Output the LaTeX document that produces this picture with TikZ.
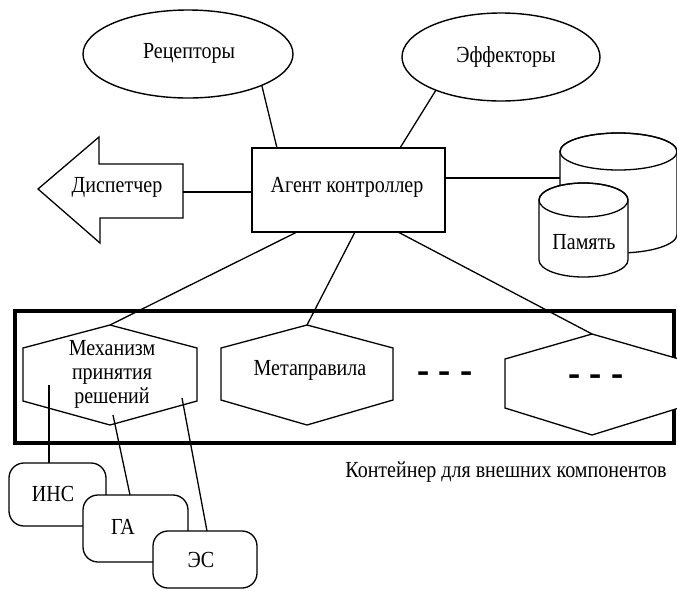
\documentclass[tikz,border=0pt]{standalone}
\usepackage{fontspec}
\setmainfont{Liberation Serif}[FakeStretch=0.87]
\usetikzlibrary{shapes.geometric,calc}
\begin{document}
\begin{tikzpicture}[x=1pt,y=-1pt,
  font=\fontsize{23}{24}\selectfont,
  line/.style={line width=1.3pt},
  ell/.style={ellipse,draw,line width=1.4pt,outer sep=0pt,inner sep=0pt},
  agbox/.style={draw,line width=1.3pt,outer sep=0pt,inner sep=0pt,fill=white},
  rbox/.style={draw,line width=1.3pt,rounded corners=15pt,fill=white,outer sep=0pt,inner sep=0pt},
  hexa/.style={line width=1.3pt,fill=white},
  cyl/.style={line width=1.3pt,fill=white},
  dots/.style={font=\fontsize{42}{42}\selectfont\bfseries,inner sep=0pt}
]
\useasboundingbox (0,0) rectangle (677,590);
\clip (0,0) rectangle (677,590);

% ellipses
\node[ell,minimum width=210pt,minimum height=88pt] (rec) at (188,54) {};
\node (rect) at (189,53) {Рецепторы};
\node[ell,minimum width=198pt,minimum height=88pt] (eff) at (501,57) {};
\node (efft) at (506,57) {Эффекторы};

% agent
\node[agbox,minimum width=193pt,minimum height=84pt] (ag) at (348.5,190) {};
\node (agt) at (347,187) {Агент контроллер};

\draw[line] (rec.-23) -- ($(ag.north west)+(25,0)$);
\draw[line] (eff.207) -- ($(ag.north east)+(-45,0)$);

% dispatcher arrow
\draw[line,fill=white] (38,189) coordinate (disptip) -- (99,137) -- (99,164) -- (183,164)
  -- (183,218) coordinate (dispSE) -- (100,218) -- (100,243) -- cycle;
\coordinate (dispR) at (183,192);
\node (disp) at (117,187) {Диспетчер};
\draw[line] (dispR) -- (dispR -| ag.west);

% memory cylinders
\coordinate (memB) at (560,178);
\draw[line] ($(ag.north east)+(0,30)$) -- (memB);
\draw[cyl] (560,151.5) -- (560,234.5) arc[start angle=180,end angle=0,x radius=58.5,y radius=18.5]
  -- (677,151.5) arc[start angle=0,end angle=-180,x radius=58.5,y radius=18.5] -- cycle;
\draw[line] (618.5,151.5) ellipse[x radius=58.5,y radius=18.5];
\draw[cyl] (539,200) -- (539,260) arc[start angle=180,end angle=0,x radius=44.5,y radius=17]
  -- (628,200) arc[start angle=0,end angle=-180,x radius=44.5,y radius=17] -- cycle;
\draw[line] (583.5,200) ellipse[x radius=44.5,y radius=17];
\node (mem) at (584,242) {Память};

% container
\draw[line width=3.5pt] (15,311) rectangle (674,443);
\node (cont) at (506,472) {Контейнер для внешних компонентов};

% hexagons
\draw[hexa] (110,325) coordinate (h1top) -- (197,348) -- (197,401) -- (110,425) -- (23,401) -- (23,348) -- cycle;
\node[align=center] (h1) at (112,374) {Механизм\\принятия\\решений};
\draw[hexa] (307,325) coordinate (h2top) -- (393,348) -- (393,400) -- (307,425) -- (221,400) -- (221,348) -- cycle;
\node (h2) at (310,370) {Метаправила};
\draw[hexa] (592,334) coordinate (h3top) -- (679,359) -- (679,408) -- (592,435) -- (505,408) -- (505,359) -- cycle;
\node[dots] (d1) at (445,378) {- - -};
\node[dots] (d2) at (596,381) {- - -};

% agent to hexagons
\draw[line] ($(ag.south west)+(45,0)$) -- (h1top);
\draw[line] ($(ag.south west)+(103,0)$) -- (h2top);
\draw[line] ($(ag.south west)+(146,0)$) -- (h3top);

% components
\coordinate (m1) at (49,385);
\coordinate (m2) at (113,415);
\coordinate (m3) at (182,398);
\node[rbox,minimum width=97pt,minimum height=63pt] (insB) at (57.5,494.5) {};
\node (ins) at (53,494) {ИНС};
\node[rbox,minimum width=105pt,minimum height=67pt] (gaB) at (135.5,528.5) {};
\node (ga) at (123,527) {ГА};
\node[rbox,minimum width=104pt,minimum height=57pt] (esB) at (205,559.5) {};
\node (es) at (201,560) {ЭС};
\draw[line] (m1) -- ($(insB.north west)+(40,0)$);
\draw[line] (m2) -- ($(gaB.north west)+(47,0)$);
\draw[line] (m3) -- ($(esB.north west)+(54,0)$);
\end{tikzpicture}
\end{document}
